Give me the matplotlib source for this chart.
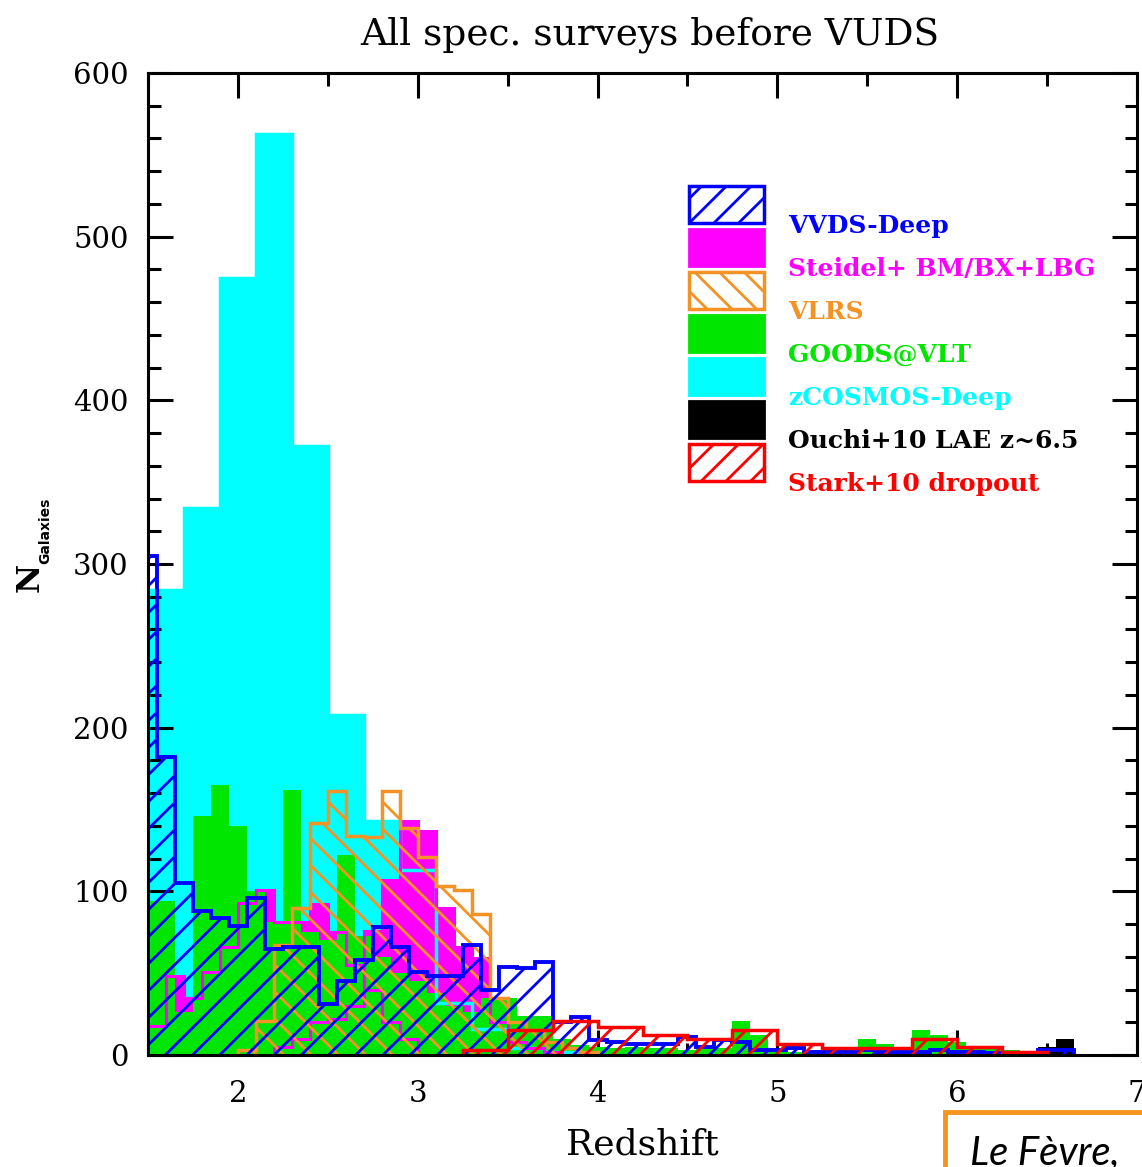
import numpy as np
import matplotlib
matplotlib.use('Agg')
import matplotlib.pyplot as plt
from matplotlib.collections import LineCollection
from matplotlib.patches import Rectangle

# ---- data (counts per redshift bin) ----
# VVDS-Deep and GOODS@VLT: 0.1 wide bins centred on 1.5, 1.6, ...
vvds_edges = np.round(np.arange(1.45, 6.66, 0.1), 2)
vvds = [305, 182, 105, 88, 84, 79, 96, 65, 66, 66,
        31, 45, 58, 78, 66, 51, 48, 48, 67, 40,
        54, 53, 57, 20, 23, 9, 8, 7, 7, 7,
        11, 5, 9, 8, 3, 3, 4, 2, 2, 2,
        3, 2, 2, 2, 3, 2, 2, 1, 1, 1,
        3, 3]

goods_edges = np.round(np.arange(1.45, 6.46, 0.1), 2)
goods = [94, 94, 26, 146, 165, 140, 100, 81, 162, 75,
         70, 122, 73, 60, 50, 45, 38, 30, 26, 35,
         35, 24, 24, 10, 6, 5, 4, 5, 4, 4,
         3, 4, 4, 21, 12, 3, 2, 2, 3, 3,
         10, 7, 4, 15, 12, 8, 5, 4, 3, 1]

# Steidel+ : BM/BX part and LBG part, 0.1 bins starting at 1.5
bx_edges = np.round(np.arange(1.5, 3.01, 0.1), 2)
steidel_bx = [18, 48, 35, 51, 66, 93, 101, 81, 81, 92, 75, 55, 40, 20, 10]
lbg_edges = np.round(np.arange(2.2, 3.81, 0.1), 2)
steidel_lbg = [5, 10, 20, 22, 30, 76, 107, 143, 137, 90, 66, 59, 20, 8, 4, 2]

vlrs_edges = np.round(np.arange(2.0, 4.01, 0.1), 2)
vlrs = [3, 21, 67, 90, 142, 161, 134, 133, 161, 139,
        121, 103, 101, 86, 35, 20, 15, 8, 4, 2]

zcosmos_edges = np.round(np.arange(1.5, 3.91, 0.2), 2)
zcosmos = [284, 334, 475, 563, 372, 208, 143, 113, 32, 16, 4, 2]

stark_edges = np.round(np.arange(3.25, 6.51, 0.25), 2)
stark = [3, 15, 21, 17, 12, 10, 15, 7, 4, 4, 10, 5, 2]

ouchi_edges = [6.45, 6.55, 6.65]
ouchi = [5, 10]

labels = ['VVDS-Deep', 'Steidel+ BM/BX+LBG', 'VLRS', 'GOODS@VLT',
          'zCOSMOS-Deep', 'Ouchi+10 LAE z~6.5', 'Stark+10 dropout']

c_blue = '#0000ff'
c_mag = '#ff00ff'
c_orange = '#f39325'
c_green = '#00e600'
c_cyan = '#00ffff'
c_black = '#000000'
c_red = '#ff0000'

fig = plt.figure(figsize=(11.42, 11.67), dpi=100)
ax = fig.add_axes([148 / 1142, 1 - 1055 / 1167, 989 / 1142, 982 / 1167])


def hatch(patch, color, direction, z, spacing=0.0275, lw=2.0, offset=0.0):
    cs = np.arange(-1.0, 1.0, spacing) + offset
    if direction == '/':
        segs = [[(c, 0), (c + 1, 1)] for c in cs]
    else:
        segs = [[(c, 1), (c + 1, 0)] for c in cs]
    lc = LineCollection(segs, transform=ax.transAxes, colors=color,
                        linewidths=lw, zorder=z)
    ax.add_collection(lc, autolim=False)
    # clip after adding, otherwise the axes patch replaces the clip
    lc.set_clip_box(ax.bbox)
    lc.set_clip_path(patch)


# filled histograms
ax.stairs(zcosmos, zcosmos_edges, fill=True, color=c_cyan, zorder=1)
ax.stairs(steidel_bx, bx_edges, fill=True, color=c_mag, zorder=2)
ax.stairs(steidel_lbg, lbg_edges, fill=True, color=c_mag, zorder=2)
ax.stairs(goods, goods_edges, fill=True, color=c_green, zorder=3)
ax.stairs(ouchi, ouchi_edges, fill=True, color=c_black, zorder=3.5)

# outlines
ax.stairs(zcosmos, zcosmos_edges, color=c_cyan, lw=2.5, zorder=4)
ax.stairs(steidel_bx, bx_edges, color=c_mag, lw=2.2, zorder=4.2)
ax.stairs(steidel_lbg, lbg_edges, color=c_mag, lw=2.2, zorder=4.2)

# hatched histograms
p_vlrs = ax.stairs(vlrs, vlrs_edges, fill=True, facecolor='none',
                   edgecolor=c_orange, lw=2.5, zorder=5)
hatch(p_vlrs, c_orange, '\\', 4.9)
p_vvds = ax.stairs(vvds, vvds_edges, fill=True, facecolor='none',
                   edgecolor=c_blue, lw=2.8, zorder=6)
hatch(p_vvds, c_blue, '/', 5.9)
p_stark = ax.stairs(stark, stark_edges, fill=True, facecolor='none',
                    edgecolor=c_red, lw=2.5, zorder=7)
hatch(p_stark, c_red, '/', 6.9, offset=0.012)

ax.set_xlim(1.5, 7.0)
ax.set_ylim(0, 600)
ax.set_xticks([2, 3, 4, 5, 6, 7])
ax.set_xticks(np.arange(1.5, 7.01, 0.5), minor=True)
ax.set_yticks(np.arange(0, 601, 100))
ax.set_yticks(np.arange(0, 601, 20), minor=True)
ax.tick_params(which='both', direction='in', top=True, right=True,
               width=2.2, labelsize=21, labelfontfamily='DejaVu Serif')
ax.tick_params(which='major', length=18)
ax.tick_params(which='minor', length=9)
ax.tick_params(axis='x', pad=18)
ax.tick_params(axis='y', pad=14)
for s in ax.spines.values():
    s.set_linewidth(2.2)
    s.set_zorder(10)

ax.set_xlabel('Redshift', fontsize=26, family='DejaVu Serif', labelpad=14)
fig.text(650 / 1142, 1 - 35 / 1167, 'All spec. surveys before VUDS',
         fontsize=27, family='DejaVu Serif', ha='center', va='center')
fig.text(30 / 1142, 1 - 577 / 1167, 'N', rotation=90, fontsize=23,
         family='DejaVu Serif', fontweight='bold', ha='center', va='center')
fig.text(45 / 1142, 1 - 531 / 1167, 'Galaxies', rotation=90, fontsize=10,
         family='DejaVu Sans', fontweight='bold', ha='center', va='center')

# legend drawn by hand: box, then label slightly below it
styles = [('hatch', c_blue, '/'), ('fill', c_mag, None), ('hatch', c_orange, '\\'),
          ('fill', c_green, None), ('fill', c_cyan, None), ('fill', c_black, None),
          ('hatch', c_red, '/')]
bx0, bw, bh = 0.547, 0.0758, 0.0377
top0 = 0.847
pitch = 0.0438
for i, (lab, (kind, col, d)) in enumerate(zip(labels, styles)):
    yb = top0 - i * pitch
    if kind == 'fill':
        r = Rectangle((bx0, yb), bw, bh, transform=ax.transAxes,
                      facecolor=col, edgecolor=col, lw=2, zorder=12)
        ax.add_patch(r)
    else:
        r = Rectangle((bx0, yb), bw, bh, transform=ax.transAxes,
                      facecolor='white', edgecolor=col, lw=2.5, zorder=12)
        ax.add_patch(r)
        hatch(r, col, d, 12.5, spacing=0.025)
    ax.text(0.647, yb - 0.003, lab, transform=ax.transAxes, color=col,
            fontsize=18, family='DejaVu Serif', fontweight='bold',
            ha='left', va='center', zorder=13)

# reference box at the bottom right
fig.patches.append(Rectangle((945 / 1142, -0.02), 0.2, 0.02 + (1167 - 1112) / 1167,
                             transform=fig.transFigure, facecolor='white',
                             edgecolor='#f7941d', lw=3.5))
fig.text(970 / 1142, 3 / 1167, 'Le Fèvre,', fontsize=29, style='italic',
         family=['Lato', 'DejaVu Sans'], ha='left', va='baseline')

fig.savefig('out.png', dpi=100)
